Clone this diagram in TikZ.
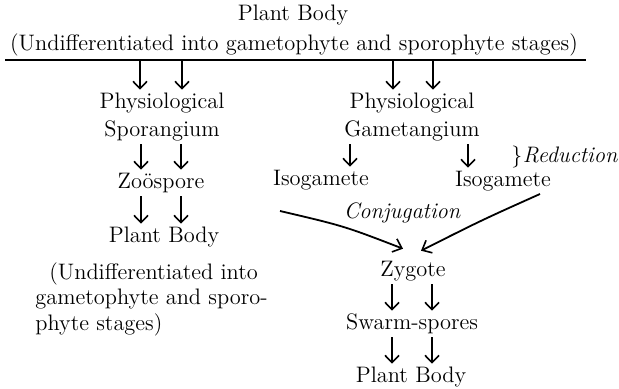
\documentclass[tikz,border=0pt]{standalone}
\usetikzlibrary{arrows.meta,calc}
\begin{document}
\begin{tikzpicture}[x=0.5pt,y=-0.5pt,
  lbl/.style={inner sep=0pt, font=\fontsize{11.2}{13}\selectfont, text height=7.6pt, text depth=2.3pt},
  para/.style={inner sep=0pt, font=\fontsize{11.2}{12.8}\selectfont, align=left},
  dar/.style={line width=0.8pt, -{Straight Barb[length=3.6pt,width=7pt,line width=0.8pt]}, shorten <=1.5pt, shorten >=1.5pt},
  conjar/.style={line width=0.9pt, -{Straight Barb[length=4pt,width=7pt,line width=0.8pt]}},
  rule/.style={line width=1.4pt}]
\useasboundingbox (0,0) rectangle (619,389);
% top
\node[lbl] (pb0) at (293,15) {Plant Body};
\node[lbl] (und0) at (294,45) {(Undifferentiated into gametophyte and sporophyte stages)};
\coordinate (ruleL) at (5,60);
\coordinate (ruleR) at (586,60);
\draw[rule] (ruleL) -- (ruleR);
% left column
\node[lbl] (phys1) at (162,103) {Physiological};
\node[lbl] (spor) at (162,131) {Sporangium};
\node[lbl] (zoo) at (161,183) {Zo\"ospore};
\node[lbl] (pb1) at (164,237) {Plant Body};
\node[para, anchor=north west] (und1) at (35,262) {\hspace*{7pt}(Undifferentiated into\\gametophyte and sporo-\\phyte stages)};
% right column
\node[lbl] (phys2) at (412,103) {Physiological};
\node[lbl] (gam) at (412,131) {Gametangium};
\node[lbl] (iso1) at (321,180) {Isogamete};
\node[lbl] (iso2) at (503,181) {Isogamete};
\node[lbl, font=\fontsize{11.2}{13}\selectfont\itshape] (conj) at (402,213) {Conjugation};
\node[lbl] (zyg) at (413,271) {Zygote};
\node[lbl] (swarm) at (412,324) {Swarm-spores};
\node[lbl] (pb2) at (411,377) {Plant Body};
\node[inner sep=0pt, anchor=west, font=\fontsize{11.2}{13}\selectfont] (red) at (511,157) {$\big\}$\kern0.3pt\itshape Reduction};
% arrows from rule
\draw[dar, shorten <=0pt] (ruleL -| 140,0) -- ($(phys1.north)+(-22,0)$);
\draw[dar, shorten <=0pt] (ruleL -| 182,0) -- ($(phys1.north)+(20,0)$);
\draw[dar, shorten <=0pt] (ruleL -| 393,0) -- ($(phys2.north)+(-19,0)$);
\draw[dar, shorten <=0pt] (ruleL -| 433,0) -- ($(phys2.north)+(21,0)$);
% left column arrows
\draw[dar] ($(spor.south)+(-21,0)$) -- ($(zoo.north)+(-20,0)$);
\draw[dar] ($(spor.south)+(19,0)$) -- ($(zoo.north)+(20,0)$);
\draw[dar] ($(zoo.south)+(-20,0)$) -- ($(pb1.north)+(-23,0)$);
\draw[dar] ($(zoo.south)+(20,0)$) -- ($(pb1.north)+(17,0)$);
% right column arrows
\draw[dar] ($(gam.south)+(-62,0)$) -- ($(iso1.north)+(29,0)$);
\draw[dar] ($(gam.south)+(56,0)$) -- ($(iso2.north)+(-35,0)$);
\coordinate (c1s) at (280,211);
\coordinate (c2s) at (540,194);
\draw[conjar] (c1s) .. controls (344,226) .. ($(zyg.north)+(-10,-12)$);
\draw[conjar] (c2s) .. controls (482,220) .. ($(zyg.north)+(8,-10)$);
\draw[dar] ($(zyg.south)+(-21,0)$) -- ($(swarm.north)+(-20,0)$);
\draw[dar] ($(zyg.south)+(19,0)$) -- ($(swarm.north)+(20,0)$);
\draw[dar] ($(swarm.south)+(-20,0)$) -- ($(pb2.north)+(-19,0)$);
\draw[dar] ($(swarm.south)+(20,0)$) -- ($(pb2.north)+(21,0)$);
\end{tikzpicture}
\end{document}
